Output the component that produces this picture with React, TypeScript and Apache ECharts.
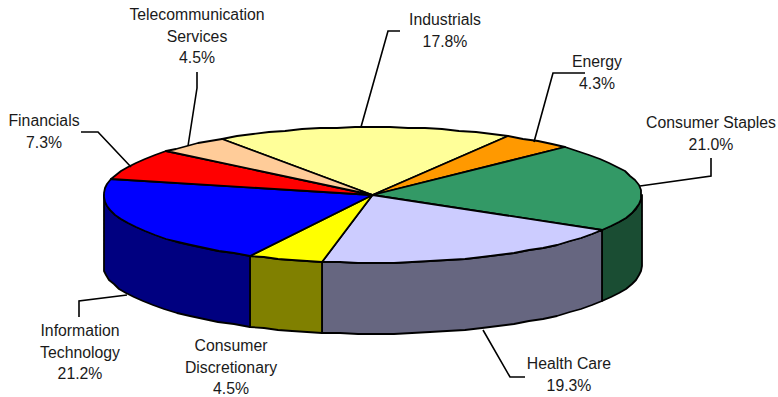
import React, { useEffect, useRef } from "react";
import * as echarts from "echarts";

const categories = ["Industrials", "Energy", "Consumer Staples", "Health Care", "Consumer Discretionary", "Information Technology", "Financials", "Telecommunication Services"];
const labelNames = ["Industrials", "Energy", "Consumer Staples", "Health Care", "Consumer\nDiscretionary", "Information\nTechnology", "Financials", "Telecommunication\nServices"];
const values = [17.8, 4.3, 21.0, 19.3, 4.5, 21.2, 7.3, 4.5];
const colors = ["#FFFF99", "#FF9900", "#339966", "#CCCCFF", "#FFFF00", "#0000FF", "#FF0000", "#FFCC99"];

// Pie projection
const CX = 372.5, CY = 195, RX = 269, RY = 68, DEPTH = 71, START = 124, STEP = 4;
const FONT = "'Liberation Sans', Arial, sans-serif";

// Label anchor (centre x, top y) and leader lines, by category index
const labelPos: [number, number][] = [[445, 9], [597, 51], [711, 112], [569, 353], [231, 335], [80, 320], [44, 110], [197, 4]];
const leaders: [number, number][][] = [
  [[400, 31], [388, 31], [361, 127]],
  [[585, 73], [553, 73], [534, 142]],
  [[711, 158], [711, 176], [640, 186]],
  [[483, 330], [510, 377], [525, 377]],
  [],
  [[79, 317], [79, 301], [127, 295]],
  [[81, 132], [98, 132], [131, 167]],
  [[197, 72], [197, 88], [188, 146]],
];

const total = values.reduce((a, b) => a + b, 0);
const bounds: number[] = [START];
values.forEach((v, i) => bounds.push(bounds[i] - (v / total) * 360));

const pt = (deg: number, dy = 0): number[] => {
  const r = (deg * Math.PI) / 180;
  return [Math.round(CX + RX * Math.cos(r)), Math.round(CY - RY * Math.sin(r) + dy)];
};
const arc = (from: number, to: number, dy = 0): number[][] => {
  const pts: number[][] = [];
  const n = Math.max(1, Math.ceil((from - to) / STEP));
  for (let k = 0; k <= n; k++) pts.push(pt(from + ((to - from) * k) / n, dy));
  return pts;
};
const darken = (hex: string): string => {
  const n = parseInt(hex.slice(1), 16);
  const c = [(n >> 16) & 255, (n >> 8) & 255, n & 255].map((x) => Math.ceil(x / 2));
  return `rgb(${c[0]},${c[1]},${c[2]})`;
};
const edge = { stroke: "#000", lineWidth: 1.8, lineJoin: "round" };

export default function App() {
  const ref = useRef<HTMLDivElement>(null);
  useEffect(() => {
    document.body.style.margin = "0";
    const chart = echarts.init(ref.current!, undefined, { renderer: "svg" });
    const walls = (params: any) => {
      const i = params.dataIndex;
      const hi = Math.min(bounds[i], 0), lo = Math.max(bounds[i + 1], -180);
      if (hi <= lo) return { type: "group", children: [] };
      const points = [...arc(hi, lo), ...arc(hi, lo, DEPTH).reverse()];
      return { type: "polygon", shape: { points }, style: { fill: darken(colors[i]), ...edge } };
    };
    const tops = (params: any) => {
      const i = params.dataIndex;
      return {
        type: "polygon",
        shape: { points: [[CX, CY], ...arc(bounds[i], bounds[i + 1])] },
        style: { fill: colors[i], ...edge },
      };
    };
    const data = values.map((v, i) => ({ name: categories[i], value: v }));
    chart.setOption({
      animation: false,
      backgroundColor: "#fff",
      series: [
        { type: "custom", coordinateSystem: "none", renderItem: walls, data, silent: true, z: 1 },
        { type: "custom", coordinateSystem: "none", renderItem: tops, data, silent: true, z: 2 },
      ],
      graphic: [
        ...leaders.filter((l) => l.length).map((points) => ({
          type: "polyline",
          z: 3,
          shape: { points },
          style: { stroke: "#000", lineWidth: 1.6, fill: "none" },
        })),
        ...values.map((v, i) => ({
          type: "text",
          z: 4,
          x: labelPos[i][0],
          y: labelPos[i][1],
          style: {
            text: `${labelNames[i]}\n${v.toFixed(1)}%`,
            font: `15.8px ${FONT}`,
            lineHeight: 21.5,
            align: "center",
            verticalAlign: "top",
            fill: "#1a1a1a",
          },
        })),
      ],
    });
    return () => chart.dispose();
  }, []);
  return <div ref={ref} style={{ width: 778, height: 397 }} />;
}
